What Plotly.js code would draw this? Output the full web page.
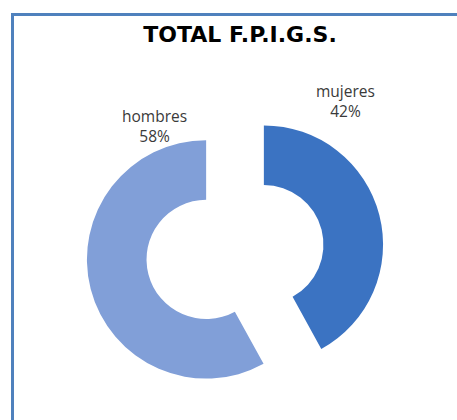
<!DOCTYPE html>
<html>
<head>
<meta charset="utf-8">
<script src="https://cdn.plot.ly/plotly-3.0.1.min.js"></script>
<style>
  html, body { margin: 0; padding: 0; background: #ffffff; }
  #chart { width: 457px; height: 420px; }
</style>
</head>
<body>
<div id="chart"></div>
<script>
const chartTitle = "TOTAL F.P.I.G.S.";
const categories = ["mujeres", "hombres"];
const percentages = [42, 58];
const sliceColors = ["#3b73c2", "#819fd8"];

const W = 457, H = 420;
const px = (x) => x / W;
const py = (y) => 1 - y / H;

const labelPos = [[345, 101], [154, 126]];
const annotations = categories.map((c, i) => ({
  text: c + "<br>" + percentages[i] + "%",
  x: px(labelPos[i][0]), y: py(labelPos[i][1]),
  xref: "paper", yref: "paper",
  xanchor: "center", yanchor: "middle",
  showarrow: false,
  font: { family: "Open Sans, DejaVu Sans, sans-serif", size: 15.5, color: "#3a3a3a" }
}));

const cx = 235, cy = 252, size = 298;
const trace = {
  type: "pie",
  labels: categories,
  values: percentages,
  sort: false,
  direction: "clockwise",
  rotation: 0,
  hole: 0.5,
  pull: [0.25, 0.25],
  textinfo: "none",
  hoverinfo: "label+percent",
  marker: { colors: sliceColors, line: { color: "#ffffff", width: 0 } },
  domain: { x: [px(cx - size / 2), px(cx + size / 2)], y: [py(cy + size / 2), py(cy - size / 2)] },
  showlegend: false
};

const layout = {
  width: W, height: H,
  margin: { l: 0, r: 0, t: 0, b: 0 },
  paper_bgcolor: "#ffffff",
  showlegend: false,
  title: {
    text: "<b>" + chartTitle + "</b>",
    x: px(240), xanchor: "center",
    y: py(34), yanchor: "middle",
    font: { family: "DejaVu Sans, Open Sans, sans-serif", size: 22, color: "#000000" }
  },
  annotations: annotations,
  shapes: [
    { type: "line", xref: "paper", yref: "paper", x0: px(13), x1: 1.02, y0: py(14.5), y1: py(14.5), line: { color: "#4f81bd", width: 3 } },
    { type: "line", xref: "paper", yref: "paper", x0: px(12.5), x1: px(12.5), y0: py(13), y1: -0.02, line: { color: "#4f81bd", width: 3 } }
  ]
};

Plotly.newPlot("chart", [trace], layout, { staticPlot: true, displayModeBar: false });
</script>
</body>
</html>
